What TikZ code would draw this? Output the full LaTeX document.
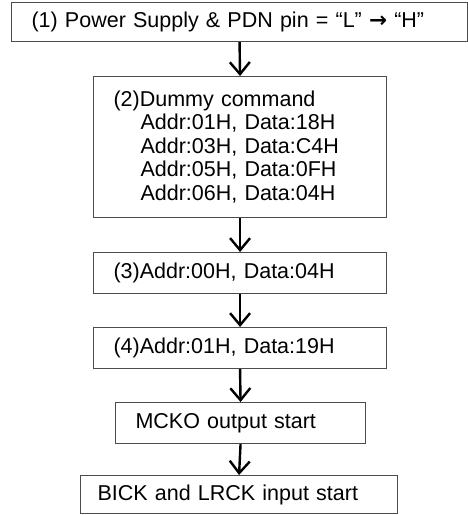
\documentclass[tikz,border=0pt]{standalone}
\usepackage{fontspec}
\setmainfont{Liberation Sans}
\newfontfamily\arrowfont{DejaVu Sans}
\usetikzlibrary{arrows.meta}
\tikzset{
  stepbox/.style={draw=black!70, line width=1.1pt, anchor=north west,
    inner xsep=20pt, inner ysep=0pt, align=left,
    font=\fontsize{21.5pt}{23.5pt}\selectfont},
  flow/.style={line width=2.4pt, -{Straight Barb[length=12pt,width=20pt]}}
}
\begin{document}
\begin{tikzpicture}[x=1pt,y=-1pt]
            \useasboundingbox (0,0) rectangle (468,515);
            \node[stepbox, text width=416pt, minimum height=39pt] (s1) at (11,2)
                {(1) Power Supply \& PDN pin = “L” {\arrowfont\bfseries →} “H”};
            \node[stepbox, text width=253pt, minimum height=141pt] (s2) at (93,76)
                {(2)Dummy command\\
                 \hspace*{27pt}Addr:01H, Data:18H\\
                 \hspace*{27pt}Addr:03H, Data:C4H\\
                 \hspace*{27pt}Addr:05H, Data:0FH\\
                 \hspace*{27pt}Addr:06H, Data:04H};
            \node[stepbox, text width=253pt, minimum height=41pt] (s3) at (93,252)
                {(3)Addr:00H, Data:04H};
            \node[stepbox, text width=253pt, minimum height=41pt] (s4) at (93,327)
                {(4)Addr:01H, Data:19H};
            \node[stepbox, text width=210pt, minimum height=41pt] (s5) at (115,402)
                {MCKO output start};
            \node[stepbox, text width=283pt, minimum height=38pt, inner xsep=17pt] (s6) at (80,475)
                {BICK and LRCK input start};
            \foreach \a/\b in {s1/s2,s2/s3,s3/s4,s4/s5,s5/s6}
                \draw[flow] (\a.south) -- (\b.north);
        \end{tikzpicture}
\end{document}
